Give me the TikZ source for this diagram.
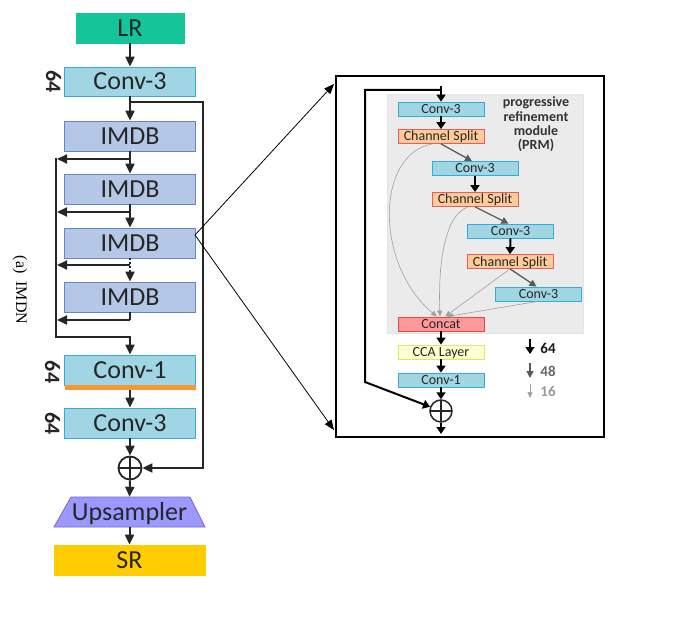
\documentclass[tikz,border=0pt]{standalone}
\usepackage{fontspec}
\setmainfont{Carlito}
\newfontfamily\timesf{Liberation Serif}
\usetikzlibrary{arrows.meta}
\definecolor{lrf}{RGB}{22,196,154}
\definecolor{convf}{RGB}{160,214,228}
\definecolor{convb}{RGB}{52,172,216}
\definecolor{imdbf}{RGB}{180,199,231}
\definecolor{imdbb}{RGB}{100,135,195}
\definecolor{barc}{RGB}{247,150,50}
\definecolor{upf}{RGB}{153,153,255}
\definecolor{upb}{RGB}{128,100,200}
\definecolor{srf}{RGB}{255,204,0}
\definecolor{ln}{RGB}{38,38,38}
\definecolor{txt}{RGB}{38,38,38}
\definecolor{splitf}{RGB}{255,204,153}
\definecolor{splitb}{RGB}{238,90,90}
\definecolor{catf}{RGB}{255,153,153}
\definecolor{catb}{RGB}{235,70,70}
\definecolor{ccaf}{RGB}{255,255,208}
\definecolor{ccab}{RGB}{230,228,100}
\definecolor{panel}{RGB}{235,235,235}
\definecolor{gmid}{RGB}{90,90,90}
\definecolor{glt}{RGB}{160,160,160}
\begin{document}
\begin{tikzpicture}[x=1pt,y=-1pt,
  bigbox/.style={draw, line width=0.8pt, minimum width=131pt, minimum height=30pt, inner sep=0pt, text=txt, font=\fontsize{26}{26}\selectfont, text height=17pt, text depth=0pt},
  convbox/.style={bigbox, fill=convf, draw=convb},
  imdbbox/.style={bigbox, fill=imdbf, draw=imdbb},
  arr/.style={draw=ln, line width=2pt, -{Triangle[length=10pt,width=9pt]}},
  lnk/.style={draw=ln, line width=2pt},
  chlab/.style={text=txt, font=\bfseries\fontsize{22}{22}\selectfont, rotate=-90, inner sep=0pt},
  zoomln/.style={draw=black, line width=0.8pt, -{Triangle[length=10pt,width=8pt]}},
  smbox/.style={draw, line width=0.8pt, minimum width=86pt, minimum height=14pt, inner sep=0pt, text=black!85, font=\fontsize{14}{14}\selectfont, text height=9pt, text depth=0pt},
  smconv/.style={smbox, fill=convf, draw=convb},
  smsplit/.style={smbox, fill=splitf, draw=splitb},
  bk/.style={draw=black, line width=2pt, -{Triangle[length=7pt,width=9pt]}},
  gm/.style={draw=gmid, line width=1.3pt, -{Triangle[length=7pt,width=7pt]}},
  gt/.style={draw=glt, line width=0.6pt, -{Triangle[length=6pt,width=5pt]}},
  oplus/.style={circle, draw=ln, fill=white, line width=1.8pt, minimum size=#1, inner sep=0pt,
    path picture={\draw[ln, line width=2.5pt] (path picture bounding box.north) -- (path picture bounding box.south) (path picture bounding box.west) -- (path picture bounding box.east);}},
]
\useasboundingbox (0,0) rectangle (700,620);

% ---------- left column ----------
\node[bigbox, fill=lrf, draw=lrf, minimum width=108pt] (lr) at (130,28) {LR};
\node[convbox, minimum height=29pt] (ca) at (130,81.5) {Conv-3};
\node[chlab] (la) at (53.5,81.5) {64};
\node[imdbbox] (i1) at (130,136) {IMDB};
\node[imdbbox] (i2) at (130,189) {IMDB};
\node[imdbbox] (i3) at (130,243) {IMDB};
\node[imdbbox] (i4) at (130,297) {IMDB};
\node[convbox] (cb) at (130,370) {Conv-1};
\node[fill=barc, minimum width=131pt, minimum height=5pt, inner sep=0pt] (bar) at (130,387.5) {};
\node[chlab] (lb) at (52.5,372) {64};
\node[convbox] (cc) at (130,423) {Conv-3};
\node[chlab] (lc) at (52.5,423.5) {64};
\node[oplus=23pt] (pa) at (130,468) {};
\filldraw[draw=upb, fill=upf, line width=0.8pt] (54,527) -- (71,497) -- (190,497) -- (205,527) -- cycle;
\node[minimum width=120pt, minimum height=30pt, inner sep=0pt,
      text=txt, font=\fontsize{26}{26}\selectfont, text height=17pt, text depth=0pt] (up) at (129.5,512) {Upsampler};
\node[bigbox, fill=srf, draw=srf, minimum width=151pt] (sr) at (129.5,560) {SR};
\node[font=\timesf\fontsize{16}{16}\selectfont, rotate=-90, inner sep=0pt] (cap) at (20,290) {(a)~~IMDN};

\draw[arr] (lr.south) -- (ca.north);
\draw[arr] (ca.south) -- (i1.north);
\coordinate (s1a) at (203,102);
\coordinate (s1b) at (203,468);
\draw[arr] (ca.south |- s1a) -- (s1a) -- (s1b) -- (pa.east);
\coordinate (b1) at (57,159);
\coordinate (b2) at (57,212);
\coordinate (b3) at (57,265);
\coordinate (b4) at (57,320);
\coordinate (v1) at (56,158);
\coordinate (v2) at (56,337);
\coordinate (d1) at (130,272);
\draw[arr] (i1.south) -- (i2.north);
\draw[arr] (i2.south) -- (i3.north);
\draw[lnk, dash pattern=on 2pt off 2pt] (i3.south) -- (d1);
\draw[arr] (d1) -- (i4.north);
\draw[lnk] (i4.south) -- (i4.south |- b4);
\draw[arr] (i1.south |- b1) -- (b1);
\draw[arr] (i2.south |- b2) -- (b2);
\draw[arr] (i3.south |- b3) -- (b3);
\draw[arr] (i4.south |- b4) -- (b4);
\draw[arr] (v1) -- (v2) -- (cb.north |- v2) -- (cb.north);
\draw[arr] (bar.south) -- (cc.north);
\draw[arr] (cc.south) -- (pa.north);
\draw[arr] (pa.south) -- (up.north);
\draw[arr] (up.south) -- (sr.north);

% ---------- zoom box ----------
\node[draw=black, line width=2pt, minimum width=268pt, minimum height=361pt, inner sep=0pt] (zbox) at (469.5,256.5) {};
\coordinate (zv) at (195,235);
\coordinate (zt) at (334,84);
\coordinate (zb) at (334,430);
\draw[zoomln] (zv) -- (zt);
\draw[zoomln] (zv) -- (zb);

\node[fill=panel, draw=black!10, line width=0.5pt, minimum width=196pt, minimum height=239pt, inner sep=0pt] (prm) at (485,213.5) {};
\node[font=\bfseries\fontsize{14}{14.3}\selectfont, text=black!80, align=center, inner sep=0pt] (prmt) at (536,124.5) {progressive\\refinement\\module\\(PRM)};

\node[smconv] (c1) at (441,109) {Conv-3};
\node[smsplit] (s1) at (441,136.5) {Channel Split};
\node[smconv] (c2) at (475,168.5) {Conv-3};
\node[smsplit] (s2) at (475,199.5) {Channel Split};
\node[smconv] (c3) at (510.5,231) {Conv-3};
\node[smsplit] (s3) at (510,261.5) {Channel Split};
\node[smconv] (c4) at (538.5,294) {Conv-3};
\node[smbox, fill=catf, draw=catb] (cat) at (441,324) {Concat};
\node[smbox, fill=ccaf, draw=ccab] (cca) at (441,352) {CCA Layer};
\node[smconv] (cv1) at (441,380) {Conv-1};
\node[oplus=22pt, line width=1.5pt] (p2) at (441,411) {};

\coordinate (in0) at (441,86);
\coordinate (k1) at (365,90);
\coordinate (k2) at (365,382);
\coordinate (out2) at (441,434);
\draw[bk] (in0) -- (c1.north);
\draw[bk] (c1.north |- k1) -- (k1) -- (k2) -- (p2);
\draw[bk] (c1.south) -- (s1.north);
\draw[gm] (s1.south) -- ([xshift=-3pt]c2.north);
\draw[bk] (c2.south) -- (s2.north);
\draw[gm] (s2.south) -- ([xshift=-2pt]c3.north);
\draw[bk] (c3.south) -- (s3.north);
\draw[gm] (s3.south) -- ([xshift=-2pt]c4.north);
\draw[gt] ([xshift=-9pt]s1.south) .. controls (375,155) and (375,265) .. ([xshift=-4pt]cat.north);
\draw[gt] ([xshift=-7pt]s2.south) .. controls (445,215) and (438,262) .. ([xshift=-1pt]cat.north);
\draw[gt] (s3.south) -- ([xshift=4pt]cat.north);
\draw[gt] ([xshift=-1pt]c4.south) -- ([xshift=6pt]cat.north);
\draw[bk] (cat.south) -- (cca.north);
\draw[bk] (cca.south) -- (cv1.north);
\draw[bk] (cv1.south) -- (p2.north);
\draw[bk] (p2.south) -- (out2);

% ---------- legend ----------
\coordinate (la1) at (530,339);
\coordinate (la2) at (530,354);
\coordinate (lb1) at (530,363);
\coordinate (lb2) at (530,378);
\coordinate (lc1) at (530,384);
\coordinate (lc2) at (530,398);
\draw[bk] (la1) -- (la2);
\draw[gm] (lb1) -- (lb2);
\draw[gt] (lc1) -- (lc2);
\node[font=\bfseries\fontsize{15}{15}\selectfont, text=black!90, inner sep=0pt] (t64) at (548,348) {64};
\node[font=\bfseries\fontsize{15}{15}\selectfont, text=black!60, inner sep=0pt] (t48) at (548,371) {48};
\node[font=\bfseries\fontsize{15}{15}\selectfont, text=black!40, inner sep=0pt] (t16) at (548,391) {16};
\end{tikzpicture}
\end{document}
